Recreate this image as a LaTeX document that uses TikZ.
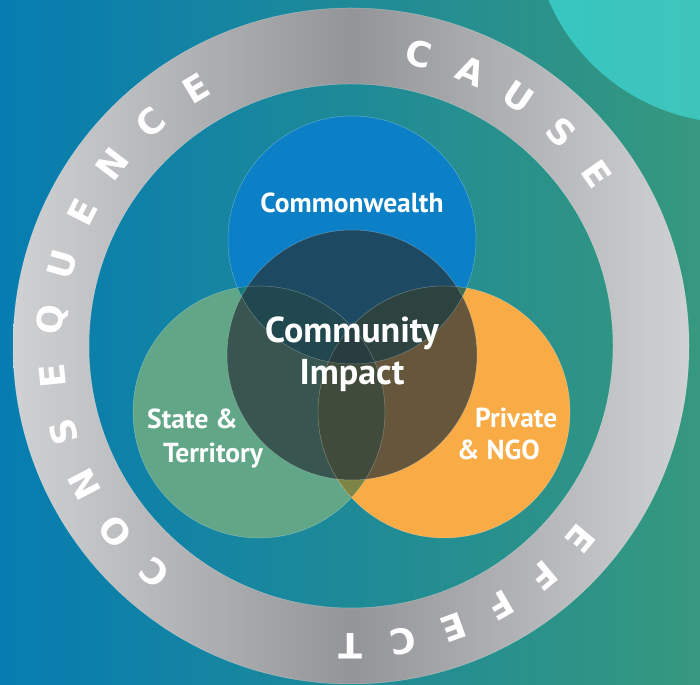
\documentclass[tikz,border=0pt]{standalone}
\usepackage{fontspec}
\setmainfont{PT Sans}
\newfontfamily\ringfont{DejaVu Sans}

\definecolor{bgleft}{HTML}{067CB1}
\definecolor{bgright}{HTML}{36987E}
\definecolor{cornerleft}{HTML}{36C6C1}
\definecolor{cornerright}{HTML}{4DC2B4}
\definecolor{ringlight}{HTML}{D0D1D3}
\definecolor{ringdark}{HTML}{939598}
\definecolor{cwblue}{HTML}{0C80C6}
\definecolor{stgreen}{HTML}{62A688}
\definecolor{ngoorange}{HTML}{F9AB45}
\definecolor{stngo}{HTML}{7C8546}
\definecolor{cwst}{HTML}{137B80}
\definecolor{cwngo}{HTML}{3E6B4F}
\definecolor{allthree}{HTML}{2A5550}
\definecolor{coredark}{HTML}{273339}

\begin{document}
\begin{tikzpicture}[x=1pt, y=1pt,
	lbl/.style={text=white, font=\bfseries\fontsize{27.5}{32}\selectfont, inner sep=0pt},
	ringletter/.style={text=white, font=\ringfont\bfseries\fontsize{35}{35}\selectfont, inner sep=0pt},
	edge/.style={draw=white, draw opacity=0.3, line width=0.5pt}]

	\useasboundingbox (0,0) rectangle (700,684);
	\clip (0,0) rectangle (700,684);

	\coordinate (mid) at (351,338);
	\coordinate (cw) at (352,444);
	\coordinate (st) at (259,272);
	\coordinate (ngo) at (444,272);
	\coordinate (core) at (352,329);

	% background
	\shade[left color=bgleft, right color=bgright] (0,0) rectangle (700,684);
	\shade[left color=cornerleft, right color=cornerright] (735,764) circle (203);
	\shade[left color=ringlight, right color=ringlight, middle color=ringdark, even odd rule]
		(mid) circle (338) (mid) circle (262);
	\draw[edge] (mid) circle (338) (mid) circle (262);

	% three partners
	\fill[stgreen] (st) circle (126);
	\fill[ngoorange] (ngo) circle (126);
	\fill[cwblue] (cw) circle (124);
	\begin{scope}
		\clip (st) circle (126);
		\fill[stngo] (ngo) circle (126);
		\fill[cwst] (cw) circle (124);
		\clip (ngo) circle (126);
		\fill[allthree] (cw) circle (124);
	\end{scope}
	\begin{scope}
		\clip (ngo) circle (126);
		\fill[cwngo] (cw) circle (124);
		\clip (st) circle (126);
		\fill[allthree] (cw) circle (124);
	\end{scope}
	\fill[coredark, fill opacity=0.7] (core) circle (125);
	\draw[edge] (st) circle (126) (ngo) circle (126) (cw) circle (124) (core) circle (125);

	% labels
	\node (cwlbl) [lbl, anchor=base] at (352,471) {Commonwealth};
	\node (impact1) [lbl, font=\bfseries\fontsize{36}{42}\selectfont, anchor=base] at (352,341) {Community};
	\node (impact2) [lbl, font=\bfseries\fontsize{36}{42}\selectfont, anchor=base] at (352,299) {Impact};
	\node (st1) [lbl, anchor=base west] at (147,255) {State \&};
	\node (st2) [lbl, anchor=base west] at (163,221) {Territory};
	\node (ngo1) [lbl, anchor=base west] at (475,256) {Private};
	\node (ngo2) [lbl, anchor=base west] at (457,224) {\& NGO};

	% words round the ring
	\begin{scope}[shift={(mid)}]
		\foreach \ch [count=\i] in {C,A,U,S,E}
			\node (cause\i) [ringletter, rotate={77-10.5*(\i-1)-90}] at ({77-10.5*(\i-1)}:300) {\ch};
		\foreach \ch [count=\i] in {E,F,F,E,C,T}
			\node (effect\i) [ringletter, rotate={-40-10*(\i-1)-90}] at ({-40-10*(\i-1)}:300) {\ch};
		\foreach \ch [count=\i] in {C,O,N,S,E,Q,U,E,N,C,E}
			\node (conseq\i) [ringletter, rotate={229-10.8*(\i-1)-90}] at ({229-10.8*(\i-1)}:300) {\ch};
	\end{scope}
\end{tikzpicture}
\end{document}
